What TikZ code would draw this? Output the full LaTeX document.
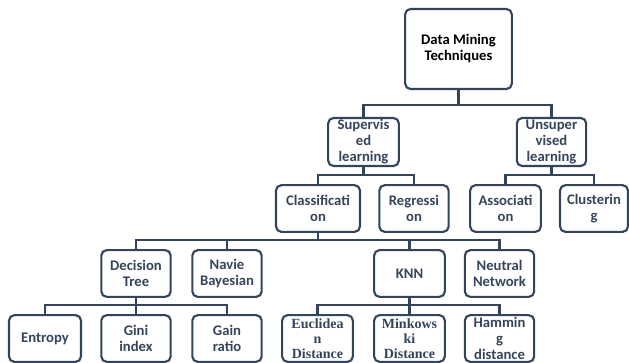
\documentclass[tikz,border=0pt]{standalone}
\usepackage{fontspec}
\setmainfont{Carlito}
\newfontfamily\serifbox{Liberation Serif}
\definecolor{boxc}{HTML}{34445A}
\begin{document}
\begin{tikzpicture}[x=0.75pt,y=-0.75pt,
  box/.style={draw=boxc,line width=1.6pt,rounded corners=4pt,inner sep=0pt,
    align=center,text=boxc,font=\fontsize{11}{12}\selectfont\bfseries},
  wire/.style={draw=boxc,line width=1.6pt}]
\useasboundingbox (0,0) rectangle (629,362);
% level 1
\node[box,minimum width=80pt,minimum height=60pt,text=black] (root) at (458.5,49) {Data Mining\\Techniques};
% level 2
\node[box,minimum width=53pt,minimum height=36pt] (sup) at (363.5,142) {Supervis\\ed\\learning};
\node[box,minimum width=52pt,minimum height=36pt] (uns) at (551.5,142) {Unsuper\\vised\\learning};
% level 3
\node[box,minimum width=63pt,minimum height=35pt] (cls) at (318,208.5) {Classificati\\on};
\node[box,minimum width=52pt,minimum height=35pt] (reg) at (414,208.5) {Regressi\\on};
\node[box,minimum width=53pt,minimum height=35pt] (ass) at (505.5,208.5) {Associati\\on};
\node[box,minimum width=51pt,minimum height=35pt] (clu) at (594,208.5) {Clusterin\\g};
% level 4
\node[box,minimum width=52pt,minimum height=35pt] (dt) at (136,273.5) {Decision\\Tree};
\node[box,minimum width=52pt,minimum height=35pt] (nb) at (227,273.5) {Navie\\Bayesian};
\node[box,minimum width=53pt,minimum height=35pt] (knn) at (409.5,273.5) {KNN};
\node[box,minimum width=52pt,minimum height=35pt] (nn) at (499.5,273.5) {Neutral\\Network};
% level 5
\node[box,minimum width=54pt,minimum height=35pt] (ent) at (45,338.5) {Entropy};
\node[box,minimum width=52pt,minimum height=35pt] (gini) at (136,338.5) {Gini\\index};
\node[box,minimum width=52pt,minimum height=35pt] (gain) at (227,338.5) {Gain\\ratio};
\node[box,minimum width=53pt,minimum height=35pt,font=\serifbox\fontsize{10.5}{11.3}\selectfont\bfseries] (euc) at (317.5,338.5) {Euclidea\\n\\Distance};
\node[box,minimum width=53pt,minimum height=35pt,font=\serifbox\fontsize{10.5}{11.3}\selectfont\bfseries] (min) at (409.5,338.5) {Minkows\\ki\\Distance};
\node[box,minimum width=52pt,minimum height=35pt,font=\fontsize{11}{11.8}\selectfont\bfseries] (ham) at (499.5,338.5) {Hammin\\g\\distance};
% connectors
\coordinate (b1) at (458.5,105);
\draw[wire] (root.south) -- (b1);
\draw[wire] (sup.north) |- (b1) -| (uns.north);
\coordinate (b2) at (363.5,175);
\draw[wire] (sup.south) -- (b2);
\draw[wire] (cls.north) |- (b2) -| (reg.north);
\coordinate (b3) at (551.5,175);
\draw[wire] (uns.south) -- (b3);
\draw[wire] (ass.north) |- (b3) -| (clu.north);
\coordinate (b4) at (318,240);
\draw[wire] (cls.south) -- (b4);
\draw[wire] (dt.north) |- (b4) -| (nn.north);
\draw[wire] (nb.north) -- (nb.north |- b4);
\draw[wire] (knn.north) -- (knn.north |- b4);
\coordinate (b5) at (136,305);
\draw[wire] (dt.south) -- (b5);
\draw[wire] (ent.north) |- (b5) -| (gain.north);
\draw[wire] (gini.north) -- (gini.north |- b5);
\coordinate (b6) at (409.5,305);
\draw[wire] (knn.south) -- (b6);
\draw[wire] (euc.north) |- (b6) -| (ham.north);
\draw[wire] (min.north) -- (min.north |- b6);
\end{tikzpicture}
\end{document}
